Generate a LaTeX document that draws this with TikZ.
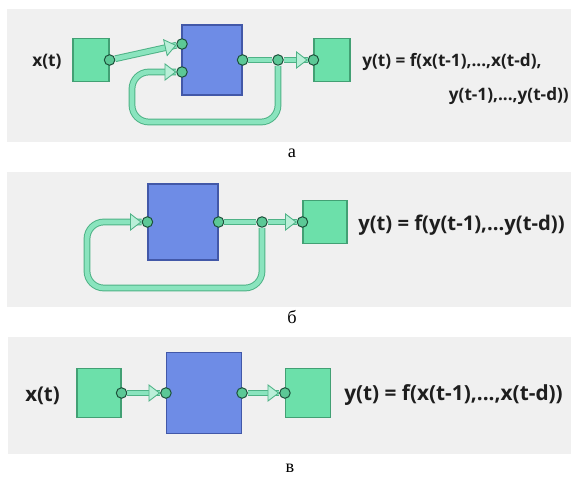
\documentclass[tikz,border=0pt]{standalone}
\usepackage{fontspec}
\usetikzlibrary{shapes.geometric,shadows}
\newfontfamily\eqfont{Open Sans}
\newfontfamily\capfont{Liberation Serif}
\definecolor{panelgray}{RGB}{240,240,240}
\definecolor{boxgreen}{RGB}{108,224,170}
\definecolor{boxgreenedge}{RGB}{66,160,116}
\definecolor{netblue}{RGB}{110,140,230}
\definecolor{netblueedge}{RGB}{66,88,168}
\definecolor{pipefill}{RGB}{138,228,190}
\definecolor{pipeedge}{RGB}{78,178,134}
\definecolor{portfill}{RGB}{92,200,150}
\definecolor{portedge}{RGB}{28,80,58}
\definecolor{textgray}{RGB}{30,30,30}

\begin{document}
\begin{tikzpicture}[x=0.025cm,y=-0.025cm,
  panel/.style={fill=panelgray},
  iobox/.style={draw=boxgreenedge,fill=boxgreen,line width=0.8pt,inner sep=0,
    drop shadow={shadow xshift=0.7pt,shadow yshift=-0.7pt,fill=boxgreenedge,opacity=0.8}},
  netbox/.style={draw=netblueedge,fill=netblue,line width=0.8pt,inner sep=0,
    drop shadow={shadow xshift=0.7pt,shadow yshift=-0.7pt,fill=netblueedge,opacity=0.8}},
  port/.style={circle,draw=portedge,fill=portfill,line width=0.7pt,minimum size=7.5pt,inner sep=0},
  pipe/.style={draw=pipeedge,double=pipefill,double distance=3.4pt,line width=0.7pt},
  tipmark/.style={isosceles triangle,isosceles triangle apex angle=75,draw=pipeedge,fill=pipefill!60!white,line width=0.6pt,minimum size=7.5pt,inner sep=0,anchor=apex},
  eq/.style={text=textgray,inner sep=0,anchor=west},
  panelcap/.style={font=\capfont\fontsize{13}{15}\selectfont}]
\useasboundingbox (0,0) rectangle (571,478);

\fill[panel] (7,9) rectangle (571,142);
\fill[panel] (7,172) rectangle (571,307);
\fill[panel] (8,337) rectangle (571,454);

% a
\node[eq,font=\eqfont\bfseries\fontsize{12.3}{15}\selectfont] (a_xt) at (32,62) {x(t)};
\node[iobox,minimum width=0.9cm,minimum height=1.075cm] (a_in) at (91,60) {};
\node[netbox,minimum width=1.5cm,minimum height=1.75cm] (a_net) at (212,60) {};
\node[iobox,minimum width=0.9cm,minimum height=1.075cm] (a_out) at (332,60) {};
\node[port] (a_o1) at (a_in.east) {};
\node[port] (a_i1) at (182,44) {};
\node[port] (a_i2) at (182,72) {};
\node[port] (a_o2) at (a_net.east) {};
\node[port] (a_br) at (278,60) {};
\node[port] (a_i3) at (a_out.west) {};
\coordinate (a_lp) at (132,122);
\draw[pipe] (a_o1) -- node[tipmark,sloped,pos=1]{} (a_i1);
\draw[pipe] (a_o2) -- (a_br);
\draw[pipe] (a_br) -- node[tipmark,pos=1]{} (a_i3);
\draw[pipe,rounded corners=12pt] (a_br) |- (a_lp) |- (a_i2);
\node[tipmark] at (a_i2.west) {};
\node[eq,font=\eqfont\bfseries\fontsize{12.2}{15}\selectfont] (a_eq1) at (362,62) {y(t) = f(x(t-1),...,x(t-d),};
\node[eq,anchor=east,font=\eqfont\bfseries\fontsize{12.2}{15}\selectfont] (a_eq2) at (569,96) {y(t-1),...,y(t-d))};
\node[panelcap] (a_cap) at (292,153) {а};

% b
\node[netbox,minimum width=1.75cm,minimum height=1.9cm] (b_net) at (183,222) {};
\node[iobox,minimum width=1.1cm,minimum height=1.075cm] (b_out) at (325,222) {};
\node[port] (b_i1) at (b_net.west) {};
\node[port] (b_o1) at (b_net.east) {};
\node[port] (b_br) at (262,222) {};
\node[port] (b_i2) at (b_out.west) {};
\coordinate (b_lp) at (87,288);
\draw[pipe] (b_o1) -- (b_br);
\draw[pipe] (b_br) -- node[tipmark,pos=1]{} (b_i2);
\draw[pipe,rounded corners=12pt] (b_br) |- (b_lp) |- (b_i1);
\node[tipmark] at (b_i1.west) {};
\node[eq,font=\eqfont\bfseries\fontsize{14.4}{17}\selectfont] (b_eq) at (358,225) {y(t) = f(y(t-1),...y(t-d))};
\node[panelcap] (b_cap) at (292,317) {б};

% в
\node[eq,font=\eqfont\bfseries\fontsize{14.5}{17}\selectfont] (c_xt) at (25,396) {x(t)};
\node[iobox,minimum width=1.1cm,minimum height=1.225cm] (c_in) at (99,393) {};
\node[netbox,minimum width=1.875cm,minimum height=2.025cm] (c_net) at (204,393) {};
\node[iobox,minimum width=1.125cm,minimum height=1.225cm] (c_out) at (308,393) {};
\node[port] (c_o1) at (c_in.east) {};
\node[port] (c_i1) at (c_net.west) {};
\node[port] (c_o2) at (c_net.east) {};
\node[port] (c_i2) at (c_out.west) {};
\draw[pipe] (c_o1) -- node[tipmark,pos=1]{} (c_i1);
\draw[pipe] (c_o2) -- node[tipmark,pos=1]{} (c_i2);
\node[eq,font=\eqfont\bfseries\fontsize{14.8}{17}\selectfont] (c_eq) at (344,395) {y(t) = f(x(t-1),...,x(t-d))};
\node[panelcap] (c_cap) at (290,468) {в};
\end{tikzpicture}
\end{document}
